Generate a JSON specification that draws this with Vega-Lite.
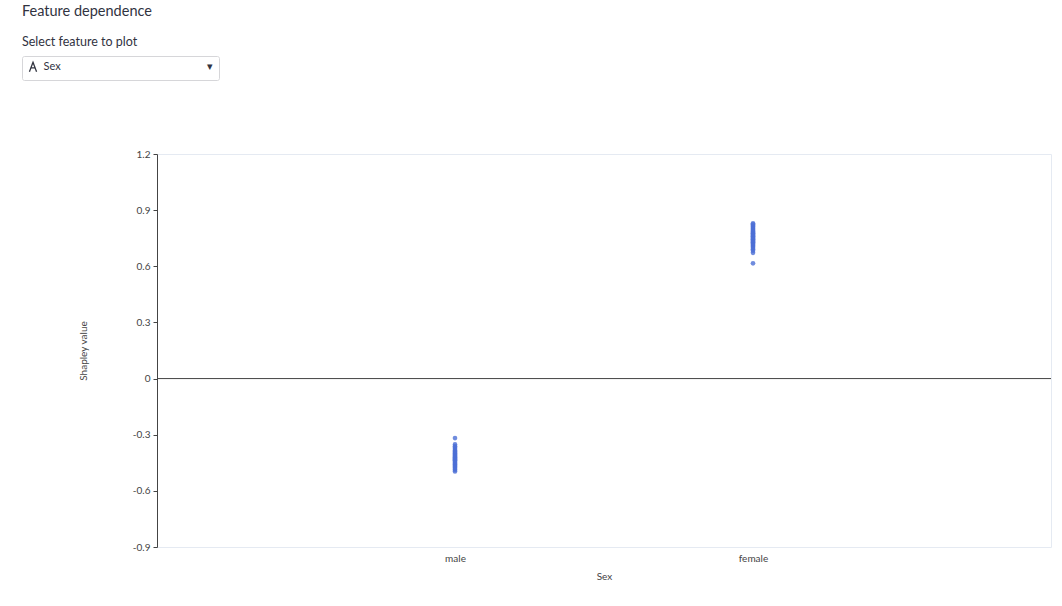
{
  "$schema": "https://vega.github.io/schema/vega-lite/v6.json",
  "autosize": "none",
  "padding": {"left": 157, "top": 154, "right": 11, "bottom": 59},
  "width": 894,
  "height": 393,
  "background": "white",
  "title": {
    "text": "Feature dependence",
    "subtitle": "Select feature to plot",
    "anchor": "start",
    "frame": "group",
    "dx": -135,
    "offset": 6,
    "font": "Lato",
    "fontSize": 14.5,
    "fontWeight": "normal",
    "color": "#31333F",
    "subtitleFont": "Lato",
    "subtitleFontSize": 12.5,
    "subtitleColor": "#31333F",
    "subtitlePadding": 17
  },
  "data": {
    "values": [
      {"Sex": "female", "shap": 0.616},
      {"Sex": "female", "shap": 0.672},
      {"Sex": "female", "shap": 0.683},
      {"Sex": "female", "shap": 0.691},
      {"Sex": "female", "shap": 0.698},
      {"Sex": "female", "shap": 0.704},
      {"Sex": "female", "shap": 0.710},
      {"Sex": "female", "shap": 0.715},
      {"Sex": "female", "shap": 0.720},
      {"Sex": "female", "shap": 0.724},
      {"Sex": "female", "shap": 0.729},
      {"Sex": "female", "shap": 0.733},
      {"Sex": "female", "shap": 0.737},
      {"Sex": "female", "shap": 0.741},
      {"Sex": "female", "shap": 0.745},
      {"Sex": "female", "shap": 0.749},
      {"Sex": "female", "shap": 0.753},
      {"Sex": "female", "shap": 0.757},
      {"Sex": "female", "shap": 0.761},
      {"Sex": "female", "shap": 0.765},
      {"Sex": "female", "shap": 0.769},
      {"Sex": "female", "shap": 0.773},
      {"Sex": "female", "shap": 0.777},
      {"Sex": "female", "shap": 0.781},
      {"Sex": "female", "shap": 0.786},
      {"Sex": "female", "shap": 0.790},
      {"Sex": "female", "shap": 0.795},
      {"Sex": "female", "shap": 0.800},
      {"Sex": "female", "shap": 0.806},
      {"Sex": "female", "shap": 0.812},
      {"Sex": "female", "shap": 0.818},
      {"Sex": "female", "shap": 0.824},
      {"Sex": "female", "shap": 0.830},
      {"Sex": "male", "shap": -0.318},
      {"Sex": "male", "shap": -0.352},
      {"Sex": "male", "shap": -0.361},
      {"Sex": "male", "shap": -0.369},
      {"Sex": "male", "shap": -0.377},
      {"Sex": "male", "shap": -0.384},
      {"Sex": "male", "shap": -0.390},
      {"Sex": "male", "shap": -0.396},
      {"Sex": "male", "shap": -0.401},
      {"Sex": "male", "shap": -0.406},
      {"Sex": "male", "shap": -0.411},
      {"Sex": "male", "shap": -0.416},
      {"Sex": "male", "shap": -0.421},
      {"Sex": "male", "shap": -0.426},
      {"Sex": "male", "shap": -0.431},
      {"Sex": "male", "shap": -0.436},
      {"Sex": "male", "shap": -0.441},
      {"Sex": "male", "shap": -0.446},
      {"Sex": "male", "shap": -0.451},
      {"Sex": "male", "shap": -0.456},
      {"Sex": "male", "shap": -0.461},
      {"Sex": "male", "shap": -0.466},
      {"Sex": "male", "shap": -0.471},
      {"Sex": "male", "shap": -0.477},
      {"Sex": "male", "shap": -0.483},
      {"Sex": "male", "shap": -0.489},
      {"Sex": "male", "shap": -0.496}
    ]
  },
  "layer": [
    {
      "data": {"values": [{"feature": "Sex"}]},
      "mark": {"type": "rule", "color": "#444444", "strokeWidth": 1},
      "encoding": {
        "y": {"datum": 0, "type": "quantitative", "scale": {"domain": [-0.9, 1.2], "nice": false, "zero": false}},
        "strokeDash": {
          "field": "feature",
          "type": "nominal",
          "scale": {"range": [[1, 0]]},
          "legend": {
            "orient": "none",
            "legendX": -135,
            "legendY": -98,
            "title": null,
            "strokeColor": "#d6d6d9",
            "cornerRadius": 2,
            "padding": 5.5,
            "symbolType": "M-0.75,1L0,-1L0.75,1M-0.42,0.2L0.42,0.2",
            "symbolSize": 90,
            "symbolStrokeWidth": 1.3,
            "symbolStrokeColor": "#31333F",
            "labelFont": "Lato",
            "labelFontSize": 11,
            "labelColor": "#31333F",
            "labelLimit": 0,
            "labelOffset": 5,
            "labelExpr": "pad(datum.label, 55, '\u00a0') + '\u25BE'"
          }
        }
      }
    },
    {
      "mark": {"type": "circle", "size": 22, "opacity": 0.8, "color": "#4C6FD6"},
      "encoding": {
        "x": {
          "field": "Sex",
          "type": "nominal",
          "scale": {"type": "point", "domain": ["male", "female"], "padding": 1},
          "axis": {"title": "Sex", "labelAngle": 0, "ticks": false, "domain": false, "labelPadding": 6, "titlePadding": 8}
        },
        "y": {
          "field": "shap",
          "type": "quantitative",
          "scale": {"domain": [-0.9, 1.2], "nice": false, "zero": false},
          "axis": {
            "title": "Shapley value",
            "values": [-0.9, -0.6, -0.3, 0, 0.3, 0.6, 0.9, 1.2],
            "labelExpr": "datum.value == 0 ? '0' : replace(format(datum.value, '.1f'), '\u2212', '-')",
            "tickSize": 4,
            "labelPadding": 3,
            "titlePadding": 44,
            "domainColor": "#444444",
            "tickColor": "#444444"
          }
        }
      }
    }
  ],
  "config": {
    "view": {"stroke": "#e5eaf2", "strokeWidth": 1},
    "axis": {
      "gridColor": "#e5eaf2",
      "gridWidth": 1,
      "labelFont": "Lato",
      "labelFontSize": 10,
      "labelColor": "#444444",
      "titleFont": "Lato",
      "titleFontSize": 10,
      "titleFontWeight": "normal",
      "titleColor": "#444444"
    }
  }
}
